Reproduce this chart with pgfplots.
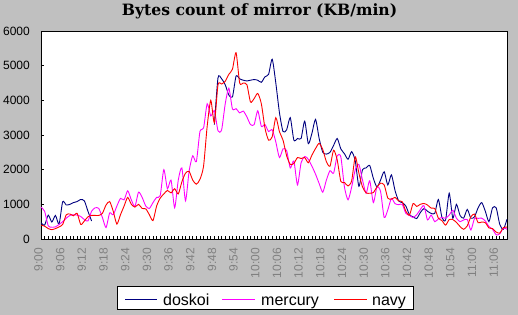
\documentclass[border=0pt]{standalone}
\usepackage{fontspec}
\setmainfont{Liberation Sans}
\newfontfamily\titlefont{DejaVu Serif}
\usepackage{pgfplots}
\pgfplotsset{compat=1.18}
\usepackage{pgfplotstable}
\definecolor{bg}{HTML}{C0C0C0}
\definecolor{cdoskoi}{HTML}{000080}
\definecolor{cmercury}{HTML}{FF00FF}
\definecolor{cred}{RGB}{255,0,0}
\definecolor{ticklab}{HTML}{808080}

\pgfplotstableread{
m D M R
0 470 920 400
1 400 800 370
2 690 380 300
3 490 340 270
4 680 350 300
5 430 420 350
6 1075 500 420
7 980 600 700
8 1000 680 720
9 1050 700 670
10 1080 690 740
11 1140 650 420
12 1100 560 520
13 800 520 640
14 520 800 680
15 nan 900 680
16 nan 880 680
17 nan 620 740
18 nan 330 980
19 nan 750 1080
20 nan 700 800
21 nan 950 430
22 nan 1170 700
23 nan 1130 950
24 nan 1390 1200
25 nan 1130 1000
26 nan 940 920
27 nan 1350 1000
28 nan 1200 880
29 nan 950 870
30 nan 880 700
31 nan 1050 530
32 nan 1200 950
33 nan 1250 1180
34 nan 2000 1300
35 nan 1450 1400
36 nan 1700 1330
37 nan 900 1450
38 nan 1700 1300
39 nan 2050 1650
40 nan 1100 1900
41 nan 1960 1950
42 nan 2400 1700
43 nan 2230 1580
44 nan 3100 1720
45 nan 3200 2100
46 nan 3900 3250
47 nan 3550 4000
48 3300 3700 3350
49 4650 3120 4450
50 4620 3150 4470
51 4450 3900 4550
52 4150 4350 4750
53 4100 3750 4900
54 4700 3760 5375
55 4620 3640 4500
56 4580 3690 4500
57 4560 3520 4450
58 4580 3300 3950
59 4600 3300 4050
60 4580 3700 4200
61 4520 3250 3900
62 4680 3300 3200
63 4750 3100 2850
64 5185 3150 2950
65 4500 2800 3500
66 3650 2350 3100
67 3100 2600 2850
68 3150 2550 2400
69 3500 2050 2150
70 2850 2250 2180
71 2900 1560 2350
72 2900 2200 2320
73 3400 2380 2350
74 2750 2300 2200
75 3050 2100 2420
76 3450 1870 2610
77 2900 1600 2760
78 2500 1350 2580
79 2450 1700 2230
80 2500 1970 2100
81 2700 1900 2560
82 2900 2400 2280
83 2600 2370 1660
84 2460 1500 1630
85 2300 1130 1530
86 2520 1500 1680
87 2250 2000 2370
88 1520 2150 1900
89 2000 1700 1500
90 2050 1320 1330
91 2120 1680 1320
92 1750 1050 1340
93 1500 1500 1500
94 1700 1370 1610
95 1940 620 1560
96 1560 840 1180
97 1850 1170 1150
98 1400 1020 1200
99 1100 990 1100
100 1050 1000 1075
101 950 740 800
102 700 680 690
103 640 620 1020
104 590 700 940
105 760 850 1000
106 880 960 1025
107 800 550 980
108 740 690 890
109 740 500 880
110 1140 580 600
111 620 620 530
112 550 600 400
113 1320 690 560
114 600 830 560
115 1000 600 480
116 680 500 360
117 600 550 280
118 855 560 380
119 600 260 640
120 640 590 720
121 900 595 470
122 1050 600 490
123 800 520 470
124 500 360 320
125 900 280 300
126 900 120 200
127 420 150 170
128 280 320 330
129 570 280 340
}\datatable

\begin{document}
\begin{tikzpicture}
\fill[bg] (0,0) rectangle (518bp,315bp);
\path[use as bounding box] (0,0) rectangle (518bp,315bp);
\begin{axis}[
  at={(41bp,76bp)}, anchor=south west,
  width=466bp, height=208bp, scale only axis,
  xmin=0, xmax=129, ymin=0, ymax=6000,
  axis background/.style={fill=white},
  axis line style={black, line width=0.8bp},
  tick align=inside, tick pos=left,
  major tick length=3bp, minor tick length=3bp,
  every tick/.style={black, line width=0.6bp},
  xtick={0,6,...,126},
  xticklabels={9:00,9:06,9:12,9:18,9:24,9:30,9:36,9:42,9:48,9:54,10:00,10:06,10:12,10:18,10:24,10:30,10:36,10:42,10:48,10:54,11:00,11:06},
  minor xtick={0,1,...,129},
  ytick={0,1000,...,6000},
  scaled y ticks=false,
  /pgf/number format/.cd, set thousands separator={}, assume math mode=true,
  /pgfplots/.cd,
  yticklabel style={font=\fontsize{12bp}{12bp}\selectfont, inner sep=0pt, anchor=east, xshift=-11bp},
  xticklabel style={font=\fontsize{12bp}{12bp}\selectfont, text=ticklab, xshift=-2.5bp, yshift=-9bp, rotate=90, anchor=east, inner sep=0pt},
  title={Bytes count of mirror (KB/min)},
  title style={at={(0.469,1.067)}, anchor=center, font=\titlefont\bfseries\fontsize{15.6bp}{15.6bp}\selectfont},
  unbounded coords=jump,
]
\addplot[cdoskoi, line width=0.9bp, smooth, tension=0.4] table[x=m, y=D] {\datatable};
\addplot[cmercury, line width=0.9bp, smooth, tension=0.4] table[x=m, y=M] {\datatable};
\addplot[cred, line width=0.9bp, smooth, tension=0.4] table[x=m, y=R] {\datatable};
\end{axis}
% legend
\filldraw[fill=white, draw=black, line width=0.8bp] (117bp,6bp) rectangle (413bp,29bp);
\draw[cdoskoi, line width=0.9bp] (125bp,16bp) -- (157bp,16bp);
\draw[cmercury, line width=0.9bp] (222bp,16bp) -- (255bp,16bp);
\draw[cred, line width=0.9bp] (334bp,16bp) -- (367bp,16bp);
\node[anchor=base west, inner sep=0pt, font=\fontsize{16bp}{16bp}\selectfont] at (163bp,10bp) {doskoi};
\node[anchor=base west, inner sep=0pt, font=\fontsize{16bp}{16bp}\selectfont] at (261bp,10bp) {mercury};
\node[anchor=base west, inner sep=0pt, font=\fontsize{16bp}{16bp}\selectfont] at (372bp,10bp) {navy};
\end{tikzpicture}
\end{document}
